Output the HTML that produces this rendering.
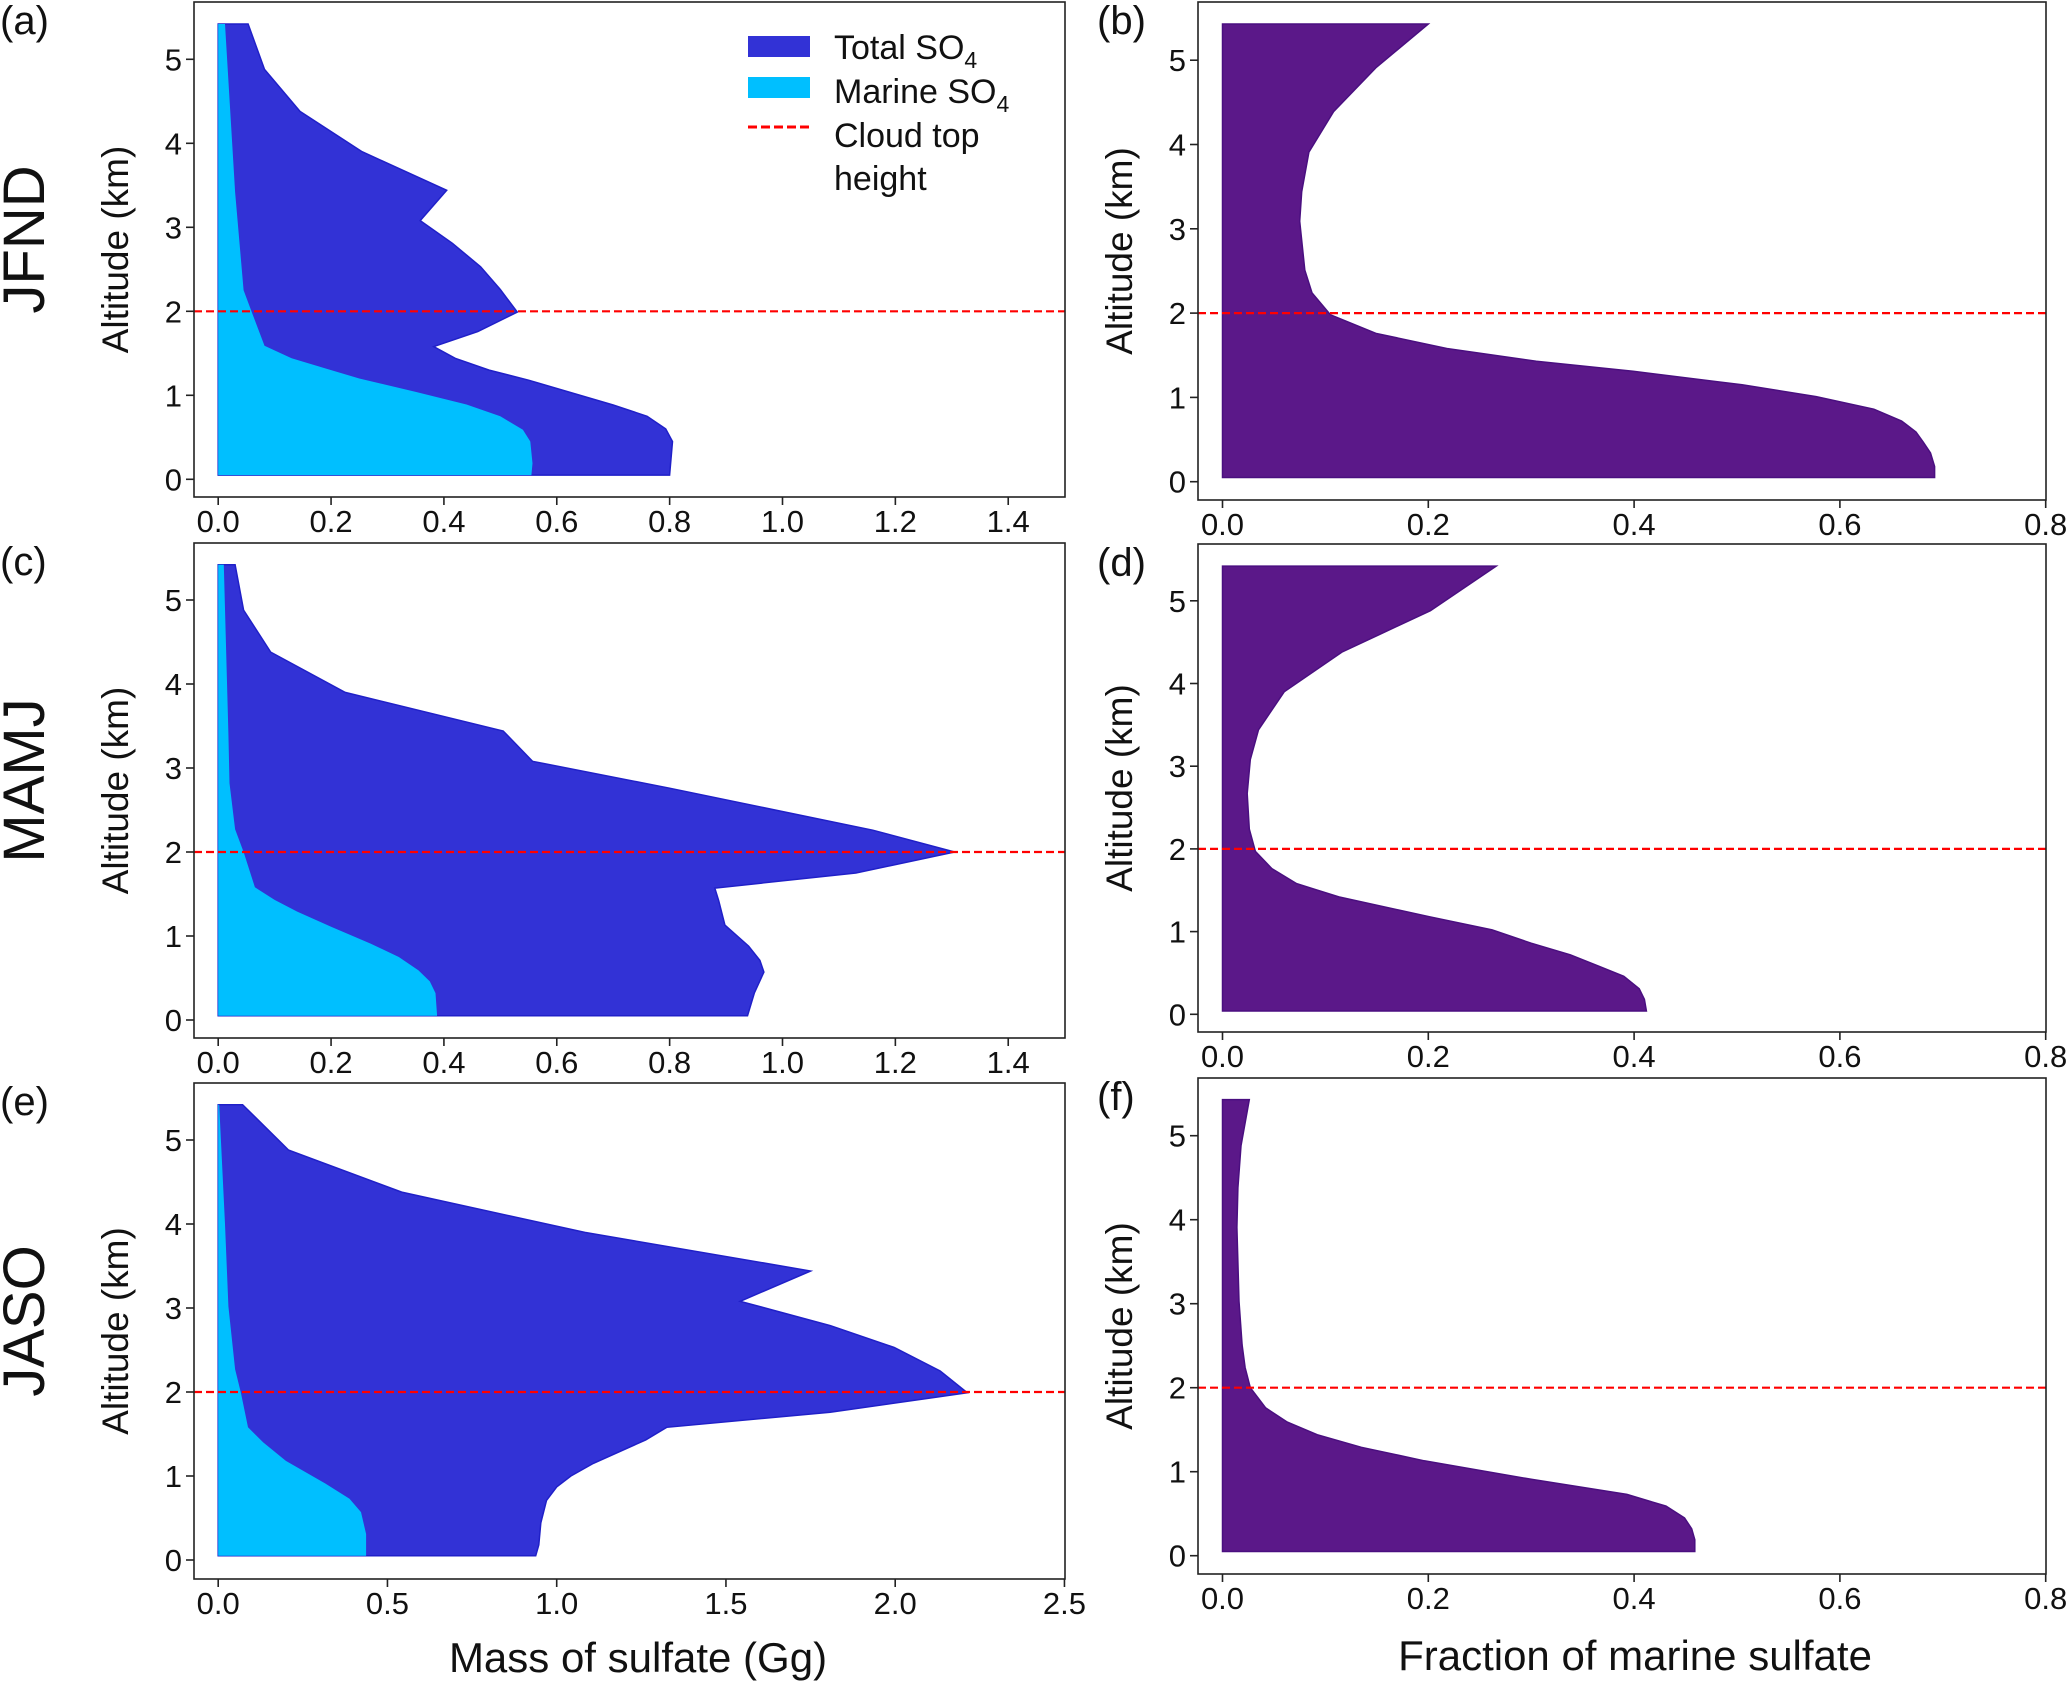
<!DOCTYPE html>
<html><head><meta charset="utf-8">
<style>
html,body{margin:0;padding:0;background:#fff;}
svg{display:block;font-family:"Liberation Sans",sans-serif;}
</style></head>
<body>
<svg id="fig" xmlns="http://www.w3.org/2000/svg" width="2067" height="1683" viewBox="0 0 2067 1683"></svg>
<script>
// ---- data (altitude in km, values) ----
const yTicks = [0,1,2,3,4,5];
const cloudTop = 2.0;
const massTicks14 = [0.0,0.2,0.4,0.6,0.8,1.0,1.2,1.4];
const massTicks25 = [0.0,0.5,1.0,1.5,2.0,2.5];
const fracTicks = [0.0,0.2,0.4,0.6,0.8];
const seasons = ["JFND","MAMJ","JASO"];

// Panel (a) JFND
const aTotalAlt = [0.05,0.45,0.6,0.75,0.885,1.18,1.30,1.44,1.58,1.76,1.99,2.26,2.53,2.81,3.08,3.44,3.90,4.38,4.88,5.42];
const aTotalVal = [0.80,0.805,0.793,0.76,0.70,0.55,0.48,0.42,0.382,0.46,0.53,0.50,0.465,0.415,0.358,0.405,0.255,0.145,0.082,0.053];
const aMarineAlt = [0.05,0.19,0.45,0.59,0.75,0.89,1.04,1.2,1.31,1.44,1.59,1.98,2.25,3.42,5.42];
const aMarineVal = [0.555,0.557,0.553,0.54,0.50,0.44,0.35,0.25,0.195,0.13,0.082,0.06,0.045,0.03,0.012];
// Panel (c) MAMJ
const cTotalAlt = [0.05,0.32,0.57,0.71,0.88,1.13,1.42,1.57,1.75,2.0,2.26,2.76,3.08,3.44,3.9,4.38,4.88,5.42];
const cTotalVal = [0.938,0.95,0.967,0.96,0.94,0.898,0.887,0.88,1.13,1.305,1.16,0.80,0.557,0.505,0.225,0.093,0.045,0.03];
const cMarineAlt = [0.05,0.32,0.46,0.59,0.75,0.91,1.11,1.29,1.43,1.58,2.0,2.27,2.82,3.41,5.42];
const cMarineVal = [0.388,0.385,0.375,0.355,0.32,0.27,0.20,0.14,0.10,0.065,0.045,0.03,0.02,0.018,0.01];
// Panel (e) JASO
const eTotalAlt = [0.05,0.18,0.44,0.71,0.87,1.0,1.15,1.43,1.58,1.76,1.99,2.25,2.53,2.79,3.08,3.44,3.9,4.38,4.88,5.42];
const eTotalVal = [0.938,0.947,0.953,0.97,1.0,1.042,1.108,1.263,1.325,1.808,2.213,2.133,1.997,1.808,1.542,1.75,1.083,0.542,0.208,0.072];
const eMarineAlt = [0.05,0.31,0.57,0.73,0.91,1.18,1.4,1.58,1.99,2.27,3.02,4.0,5.42];
const eMarineVal = [0.437,0.437,0.422,0.388,0.317,0.2,0.133,0.088,0.067,0.05,0.03,0.02,0.003];
// Panel (b) fraction JFND
const bAlt = [0.05,0.18,0.34,0.47,0.59,0.72,0.86,1.01,1.15,1.31,1.43,1.58,1.76,1.98,2.24,2.51,3.09,3.44,3.91,4.39,4.91,5.43];
const bVal = [0.692,0.692,0.688,0.681,0.674,0.66,0.633,0.577,0.505,0.399,0.305,0.218,0.149,0.105,0.087,0.08,0.075,0.077,0.084,0.108,0.149,0.2];
// Panel (d) fraction MAMJ
const dAlt = [0.04,0.18,0.31,0.46,0.58,0.72,0.86,1.02,1.18,1.42,1.58,1.76,1.97,2.24,2.67,3.08,3.44,3.9,4.38,4.88,5.42];
const dVal = [0.412,0.41,0.405,0.39,0.366,0.338,0.30,0.262,0.201,0.113,0.072,0.048,0.032,0.026,0.024,0.027,0.035,0.06,0.116,0.202,0.266];
// Panel (f) fraction JASO
const fAlt = [0.05,0.19,0.32,0.45,0.59,0.73,0.91,1.13,1.29,1.44,1.59,1.76,2.0,2.24,2.51,3.03,3.91,4.38,4.88,5.43];
const fVal = [0.459,0.459,0.456,0.449,0.431,0.393,0.30,0.196,0.135,0.092,0.063,0.042,0.027,0.022,0.019,0.016,0.014,0.015,0.018,0.026];

const NS = "http://www.w3.org/2000/svg";
const svg = document.getElementById('fig');
function mk(tag, attrs, parent){
  const e = document.createElementNS(NS, tag);
  for (const k in attrs) e.setAttribute(k, attrs[k]);
  (parent||svg).appendChild(e);
  return e;
}

const panels = [
  {id:'a', box:[194,2,1065,497], x0:218.2, xUnit:564.3, y0:479.3, km:84, ticks:massTicks14, dec:1, fr:false, tA:aTotalAlt, tV:aTotalVal, mA:aMarineAlt, mV:aMarineVal},
  {id:'b', box:[1198,2,2046,500], x0:1222.5, xUnit:1029, y0:481.7, km:84.3, ticks:fracTicks, dec:1, fr:true, fA:bAlt, fV:bVal},
  {id:'c', box:[194,543,1065,1038], x0:218.2, xUnit:564.3, y0:1020, km:84, ticks:massTicks14, dec:1, fr:false, tA:cTotalAlt, tV:cTotalVal, mA:cMarineAlt, mV:cMarineVal},
  {id:'d', box:[1198,544,2046,1032], x0:1222.5, xUnit:1029, y0:1014.3, km:82.7, ticks:fracTicks, dec:1, fr:true, fA:dAlt, fV:dVal},
  {id:'e', box:[194,1083,1065,1579], x0:218.2, xUnit:338.5, y0:1560, km:84, ticks:massTicks25, dec:1, fr:false, tA:eTotalAlt, tV:eTotalVal, mA:eMarineAlt, mV:eMarineVal},
  {id:'f', box:[1198,1078,2046,1574], x0:1222.5, xUnit:1029, y0:1555.7, km:84, ticks:fracTicks, dec:1, fr:true, fA:fAlt, fV:fVal}
];

function areaPath(p, alts, vals){
  const X = v => p.x0 + v*p.xUnit;
  const Y = a => p.y0 - a*p.km;
  let d = 'M' + X(0) + ',' + Y(alts[0]);
  for (let i=0;i<alts.length;i++) d += ' L' + X(vals[i]).toFixed(1) + ',' + Y(alts[i]).toFixed(1);
  d += ' L' + X(0) + ',' + Y(alts[alts.length-1]) + ' Z';
  return d;
}

panels.forEach((p, idx) => {
  const g = mk('g', {});
  
  
  const [L,T,R,B] = p.box;
  const X = v => p.x0 + v*p.xUnit;
  const Y = a => p.y0 - a*p.km;
  if (!p.fr) {
    const t = mk('path', {d:areaPath(p,p.tA,p.tV), fill:'#3232d6', stroke:'#2020c8', 'stroke-width':1.5}, g);
    
    
    const m = mk('path', {d:areaPath(p,p.mA,p.mV), fill:'#00bfff'}, g);
    
    
  } else {
    const f = mk('path', {d:areaPath(p,p.fA,p.fV), fill:'#5b1889', stroke:'#4a0f80', 'stroke-width':1.5}, g);
    
    
  }
  const cl = mk('line', {x1:L, x2:R, y1:Y(cloudTop), y2:Y(cloudTop), stroke:'#ff0000', 'stroke-width':2.2, 'stroke-dasharray':'8,4'}, g);
  
  
  const fr = mk('rect', {x:L, y:T, width:R-L, height:B-T, fill:'none', stroke:'#222', 'stroke-width':1.6}, g);
  
  
  yTicks.forEach(v => {
    mk('line', {x1:L-8, x2:L, y1:Y(v), y2:Y(v), stroke:'#222', 'stroke-width':1.6}, g);
    const tx = mk('text', {x:L-12, y:Y(v)+11, 'text-anchor':'end', 'font-size':31, fill:'#111'}, g);
    tx.textContent = v;
    
    
  });
  p.ticks.forEach(v => {
    mk('line', {x1:X(v), x2:X(v), y1:B, y2:B+8, stroke:'#222', 'stroke-width':1.6}, g);
    const tx = mk('text', {x:X(v), y:B+35, 'text-anchor':'middle', 'font-size':31, fill:'#111'}, g);
    tx.textContent = v.toFixed(p.dec);
    
    
  });
  const cy = (T+B)/2;
  const ylx = L - 66;
  const yl = mk('text', {x:ylx, y:cy, 'text-anchor':'middle', 'font-size':37, fill:'#111', transform:'rotate(-90 '+ylx+' '+cy+')'}, g);
  yl.textContent = 'Altitude (km)';
  
  
  const pl = mk('text', {x: p.fr ? 1097 : 0, y:T+32, 'font-size':40, fill:'#111'}, g);
  pl.textContent = '(' + p.id + ')';
  
  
  if (!p.fr) {
    const sx = 44;
    const sl = mk('text', {x:sx, y:cy-10, 'text-anchor':'middle', 'font-size':58, fill:'#111', transform:'rotate(-90 '+sx+' '+(cy-10)+')'}, g);
    sl.textContent = seasons[idx/2];
    
    
  }
});

const xt1 = mk('text', {x:638, y:1672, 'text-anchor':'middle', 'font-size':42, fill:'#111'});
xt1.textContent = 'Mass of sulfate (Gg)';


const xt2 = mk('text', {x:1635, y:1670, 'text-anchor':'middle', 'font-size':42, fill:'#111'});
xt2.textContent = 'Fraction of marine sulfate';



const lg = mk('g', {});


const r1 = mk('rect', {x:748, y:36, width:62, height:21, fill:'#3232d6'}, lg);


const r2 = mk('rect', {x:748, y:77, width:62, height:21, fill:'#00bfff'}, lg);


const r3 = mk('line', {x1:748, x2:812, y1:127, y2:127, stroke:'#ff0000', 'stroke-width':3, 'stroke-dasharray':'9,4'}, lg);


const t1 = mk('text', {x:834, y:59, 'font-size':34, fill:'#111'}, lg);
t1.innerHTML = 'Total SO<tspan font-size="23" dy="9">4</tspan>';


const t2 = mk('text', {x:834, y:103, 'font-size':34, fill:'#111'}, lg);
t2.innerHTML = 'Marine SO<tspan font-size="23" dy="9">4</tspan>';


const t3 = mk('text', {x:834, y:147, 'font-size':34, fill:'#111'}, lg);
t3.textContent = 'Cloud top';


const t4 = mk('text', {x:834, y:190, 'font-size':34, fill:'#111'}, lg);
t4.textContent = 'height';


</script>
</body></html>
